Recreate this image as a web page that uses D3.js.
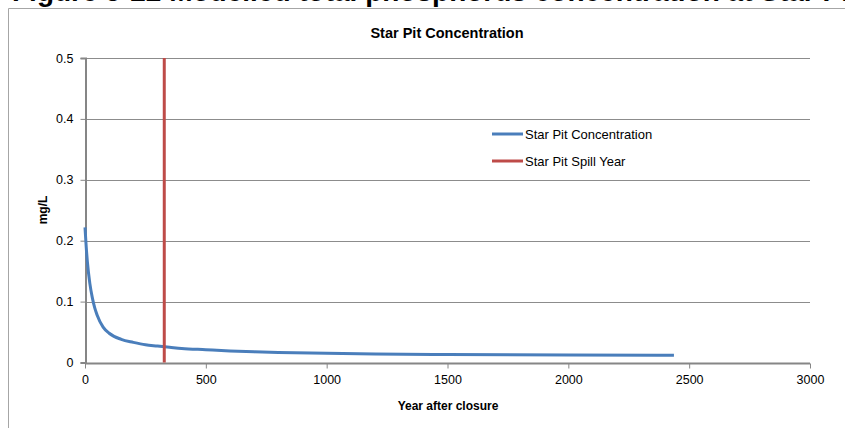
<!DOCTYPE html>
<html><head><meta charset="utf-8">
<script src="https://cdn.jsdelivr.net/npm/d3@7"></script>
<style>body{margin:0;background:#fff}svg{display:block}</style>
</head><body>
<svg id="c" width="845" height="428"></svg>
<script>
const years = [0,5,10,20,30,40,50,75,100,150,200,250,300,350,400,500,600,700,800,1000,1200,1500,2000,2437];
const conc  = [0.222,0.19,0.165,0.13,0.107,0.09,0.078,0.058,0.048,0.038,0.033,0.029,0.027,0.025,0.023,0.021,0.019,0.0175,0.0165,0.015,0.014,0.013,0.0125,0.012];
const spillYear = 328;
const xTicks = [0,500,1000,1500,2000,2500,3000];
const yTicks = [0,0.1,0.2,0.3,0.4,0.5];
const seriesNames = ["Star Pit Concentration","Star Pit Spill Year"];
const colors = ["#4a7ebb","#be4b48"];

const svg = d3.select("#c");
const font = "'Liberation Sans', Arial, sans-serif";
const x = d3.scaleLinear().domain([0,3000]).range([85,810]);
const y = d3.scaleLinear().domain([0,0.5]).range([362.5,58]);

// clipped page heading
svg.append("text").attr("x",12).attr("y",1).attr("font-family",font).attr("font-weight","bold")
  .attr("font-size",28).attr("fill","#000").text("Figure 5-22  Modelled total phosphorus concentration at Star Pit");

// frame
svg.append("path").attr("d","M8.5,428 V8.5 H845").attr("fill","none").attr("stroke","#a6a6a6").attr("stroke-width",1);

// gridlines
svg.append("g").selectAll("line").data(yTicks.filter(d=>d>0)).join("line")
  .attr("x1",x(0)).attr("x2",x(3000)).attr("y1",d=>Math.round(y(d))+0.5).attr("y2",d=>Math.round(y(d))+0.5)
  .attr("stroke","#8c8c8c").attr("stroke-width",1);

// axes
const xa = svg.append("g").attr("transform",`translate(0,${Math.round(y(0))+0.5})`)
  .call(d3.axisBottom(x).tickValues(xTicks).tickSize(5).tickPadding(7).tickFormat(d3.format("d")));
const ya = svg.append("g").attr("transform",`translate(${x(0)+0.5},0)`)
  .call(d3.axisLeft(y).tickValues(yTicks).tickSize(5).tickPadding(7).tickFormat(d=>d===0?"0":d3.format(".1f")(d)));
[xa,ya].forEach(a=>{
  a.select(".domain").attr("stroke","#868686").attr("stroke-width",2);
  a.selectAll(".tick line").attr("stroke","#868686");
  a.selectAll("text").attr("font-family",font).attr("font-size",12.5).attr("fill","#000");
});
xa.selectAll(".domain").attr("d",`M${x(0)},0H${x(3000)}`);

// series
svg.append("path").datum(years.map((t,i)=>[t,conc[i]]))
  .attr("fill","none").attr("stroke",colors[0]).attr("stroke-width",3)
  .attr("d",d3.line().x(d=>x(d[0])).y(d=>y(d[1])).curve(d3.curveMonotoneX));
svg.append("line").attr("x1",x(spillYear)).attr("x2",x(spillYear)).attr("y1",y(0.5)).attr("y2",y(0))
  .attr("stroke",colors[1]).attr("stroke-width",3);

// titles
svg.append("text").attr("x",447).attr("y",38).attr("text-anchor","middle").attr("font-family",font)
  .attr("font-weight","bold").attr("font-size",14.5).text("Star Pit Concentration");
svg.append("text").attr("x",448).attr("y",410).attr("text-anchor","middle").attr("font-family",font)
  .attr("font-weight","bold").attr("font-size",12).text("Year after closure");
svg.append("text").attr("transform","translate(47,210) rotate(-90)").attr("text-anchor","middle").attr("font-family",font)
  .attr("font-weight","bold").attr("font-size",12).text("mg/L");

// legend
const lg = svg.append("g");
seriesNames.forEach((n,i)=>{
  const yy = 134 + i*27;
  lg.append("line").attr("x1",492).attr("x2",523).attr("y1",yy).attr("y2",yy).attr("stroke",colors[i]).attr("stroke-width",3);
  lg.append("text").attr("x",525).attr("y",yy+4.5).attr("font-family",font).attr("font-size",13).text(n);
});
</script>
</body></html>
